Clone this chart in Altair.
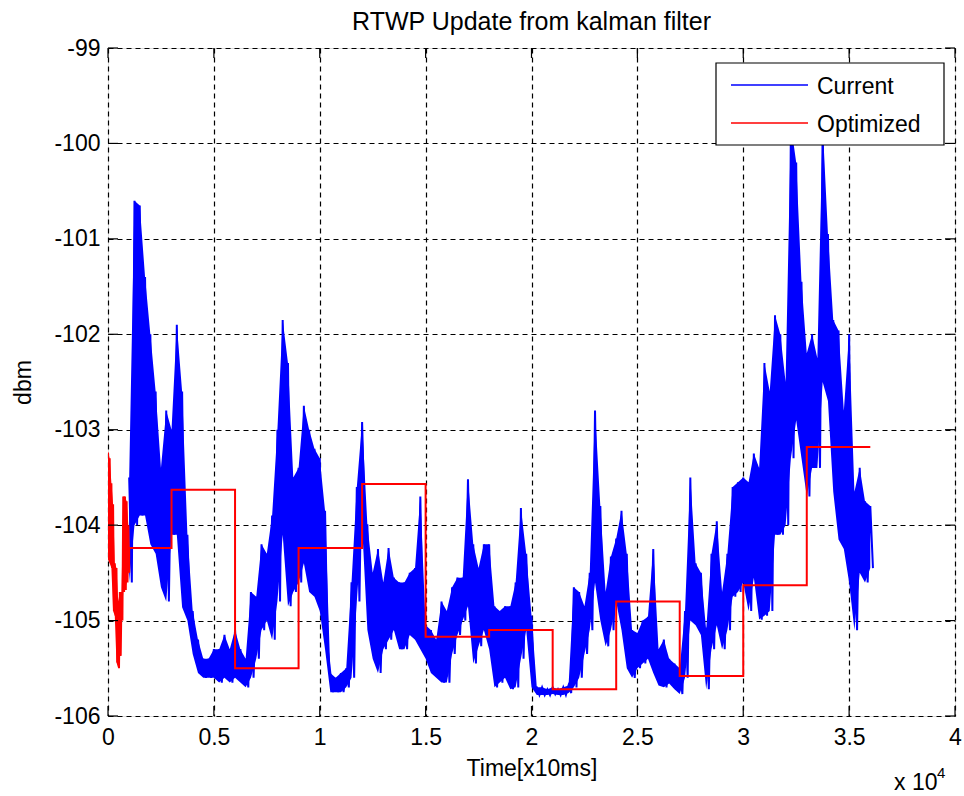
import altair as alt
import pandas as pd

# ---------------- data ----------------
X_TICKS = [0, 0.5, 1, 1.5, 2, 2.5, 3, 3.5, 4]
Y_TICKS = [-106, -105, -104, -103, -102, -101, -100, -99]
SERIES = ["Current", "Optimized"]
COLORS = ["#0000ff", "#ff0000"]

# "Current": envelope of the noisy trace sampled every 0.025 (x10^4 x10ms)
blue_t = [round(0.1 + 0.025 * i, 4) for i in range(141)]
blue_hi = [
    -103.5, -100.6, -100.65, -101.4, -102.0, -102.6, -103.4, -102.8, -103.0, -101.9,
    -102.6, -104.1, -104.9, -105.2, -105.4, -105.4, -105.3, -105.3, -105.15, -105.3,
    -105.1, -105.3, -105.4, -104.7, -104.75, -104.2, -104.3, -103.9, -103.0, -101.85,
    -102.3, -103.5, -103.4, -102.75, -103.0, -103.2, -103.3, -103.85, -105.55, -105.6,
    -105.55, -105.5, -104.6, -103.6, -102.92, -104.0, -104.5, -104.25, -104.6, -104.24,
    -104.55, -104.6, -104.6, -104.5, -104.45, -103.7, -105.05, -105.1, -105.2, -104.8,
    -104.9, -104.65, -104.55, -104.55, -103.52, -104.2, -104.45, -104.2, -104.2, -104.85,
    -104.9, -104.85, -104.85, -104.6, -103.82, -104.3, -104.95, -105.7, -105.7, -105.72,
    -105.7, -105.72, -105.7, -105.68, -104.65, -104.7, -104.85, -104.5, -102.8, -103.8,
    -104.7, -104.33, -104.14, -103.85, -104.3, -105.1, -105.13, -105.0, -104.96, -104.25,
    -105.3, -105.2, -105.4, -105.45, -105.5, -104.9, -103.5, -104.4, -104.5, -105.1,
    -104.3, -103.96, -104.7, -104.3, -103.6, -103.55, -103.5, -103.55, -103.25, -103.4,
    -102.3, -102.6, -101.8, -102.0, -102.5, -99.8, -100.2, -101.45, -102.2, -102.0,
    -102.25, -99.8, -100.95, -101.85, -101.96, -102.8, -102.0, -103.65, -103.4, -103.75,
    -103.8,
]
blue_lo = [
    -104.6, -104.0, -103.9, -103.9, -104.2, -104.3, -104.65, -104.8, -104.1, -104.1,
    -104.86, -105.0, -105.35, -105.55, -105.6, -105.6, -105.6, -105.65, -105.6, -105.65,
    -105.6, -105.65, -105.7, -105.6, -105.4, -105.1, -105.0, -105.2, -104.8, -104.1,
    -104.85, -104.7, -104.6, -104.4, -104.7, -104.75, -104.9, -105.3, -105.75, -105.75,
    -105.75, -105.7, -105.6, -104.8, -104.0, -105.1, -105.4, -105.55, -105.3, -105.2,
    -105.1, -105.3, -105.3, -105.15, -105.2, -105.3, -105.4, -105.55, -105.6, -105.65,
    -105.65, -105.35, -105.15, -105.0, -104.85, -105.45, -105.27, -105.1, -105.3, -105.7,
    -105.65, -105.6, -105.72, -105.7, -105.4, -105.1, -105.7, -105.78, -105.78, -105.78,
    -105.77, -105.78, -105.78, -105.76, -105.7, -105.6, -105.35, -105.1, -104.6, -105.0,
    -105.27, -105.1, -104.8, -105.1, -105.5, -105.6, -105.5, -105.45, -105.4, -105.55,
    -105.68, -105.7, -105.66, -105.72, -105.77, -105.6, -105.0, -105.05, -105.15, -105.72,
    -105.3, -105.05, -105.3, -105.1, -104.75, -104.7, -104.6, -104.9, -104.55, -104.99,
    -104.95, -104.9, -104.1, -104.1, -104.0, -103.3, -102.9, -103.3, -103.7, -103.4,
    -103.4, -102.5, -102.7, -103.65, -104.15, -104.25, -104.6, -105.1, -104.5, -104.6,
    -104.45,
]

# "Optimized": noisy start (envelope), then piecewise-constant updates
red_t = [0.000, 0.008, 0.016, 0.024, 0.032, 0.040, 0.048, 0.056, 0.064, 0.072,
         0.080, 0.088, 0.096]
red_hi = [-103.24, -103.3, -103.56, -103.78, -104.4, -104.45, -104.8, -104.7, -104.7,
          -103.7, -103.7, -103.75, -104.0]
red_lo = [-104.36, -104.4, -104.45, -104.9, -104.95, -105.44, -105.5, -105.37, -105.0,
          -104.7, -104.68, -104.6, -104.5]
step_edges = [0.1, 0.3, 0.6, 0.9, 1.2, 1.5, 1.8, 2.1, 2.4, 2.7, 3.0, 3.3, 3.6]
step_vals = [-104.24, -103.63, -105.5, -104.24, -103.57, -105.17, -105.1,
             -105.72, -104.8, -105.58, -104.63, -103.18]

# ---------------- tables ----------------
blue_rows, red_rows = [], []
i = 0
for t, h, l in zip(blue_t, blue_hi, blue_lo):
    blue_rows.append({"t": t, "v": h, "i": i}); i += 1
    blue_rows.append({"t": t + 0.0125, "v": l, "i": i}); i += 1
i = 0
for t, h, l in zip(red_t, red_hi, red_lo):
    red_rows.append({"t": t, "v": h, "i": i}); i += 1
    red_rows.append({"t": t + 0.004, "v": l, "i": i}); i += 1
for k, v in enumerate(step_vals):
    red_rows.append({"t": step_edges[k], "v": v, "i": i}); i += 1
    red_rows.append({"t": step_edges[k + 1], "v": v, "i": i}); i += 1
blue_line_df = pd.DataFrame(blue_rows)
red_line_df = pd.DataFrame(red_rows)
blue_band_df = pd.DataFrame({"t": blue_t, "hi": blue_hi, "lo": blue_lo})
red_band_df = pd.DataFrame({"t": red_t, "hi": red_hi, "lo": red_lo})

W, H = 847, 668
TL = 10
FONT = "Liberation Sans"
FS = 23


def x_enc(field="t"):
    return alt.X(
        f"{field}:Q",
        scale=alt.Scale(domain=[0, 4], nice=False, zero=False),
        axis=alt.Axis(values=X_TICKS, labelExpr="toString(datum.value)", title="Time[x10ms]",
                      ticks=False, domain=False, grid=True, gridColor="black", gridDash=[5, 4],
                      gridWidth=1.2, gridOpacity=1, labelFont=FONT, labelFontSize=FS,
                      labelColor="black", labelPadding=10, labelFlush=False,
                      titleFont=FONT, titleFontSize=FS, titleFontWeight="normal",
                      titleColor="black", titlePadding=8),
    )


def y_enc(field="v"):
    return alt.Y(
        f"{field}:Q",
        scale=alt.Scale(domain=[-106, -99], nice=False, zero=False),
        axis=alt.Axis(values=Y_TICKS, labelExpr="toString(datum.value)", title="dbm",
                      ticks=False, domain=False, grid=True, gridColor="black", gridDash=[5, 4],
                      gridWidth=1.2, gridOpacity=1, labelFont=FONT, labelFontSize=FS,
                      labelColor="black", labelPadding=8, labelFlush=False,
                      titleFont=FONT, titleFontSize=FS, titleFontWeight="normal",
                      titleColor="black", titlePadding=18),
    )


blue_band = alt.Chart(blue_band_df).mark_area(color=COLORS[0], clip=True).encode(
    x=x_enc(), y=y_enc("hi"), y2="lo:Q")
blue_line = alt.Chart(blue_line_df).mark_line(color=COLORS[0], strokeWidth=2, clip=True).encode(
    x=x_enc(), y=y_enc(), order=alt.Order("i:Q"))
red_band = alt.Chart(red_band_df).mark_area(color=COLORS[1], clip=True).encode(
    x=x_enc(), y=y_enc("hi"), y2="lo:Q")
red_line = alt.Chart(red_line_df).mark_line(color=COLORS[1], strokeWidth=2, clip=True).encode(
    x=x_enc(), y=y_enc(), order=alt.Order("i:Q"))

xt = pd.DataFrame({"t": X_TICKS})
yt = pd.DataFrame({"v": Y_TICKS})
tick_bottom = alt.Chart(xt).mark_rule(color="black", strokeWidth=1.2).encode(
    x="t:Q", y=alt.value(H), y2=alt.value(H - TL))
tick_top = alt.Chart(xt).mark_rule(color="black", strokeWidth=1.2).encode(
    x="t:Q", y=alt.value(0), y2=alt.value(TL))
tick_left = alt.Chart(yt).mark_rule(color="black", strokeWidth=1.2).encode(
    y="v:Q", x=alt.value(0), x2=alt.value(TL))
tick_right = alt.Chart(yt).mark_rule(color="black", strokeWidth=1.2).encode(
    y="v:Q", x=alt.value(W), x2=alt.value(W - TL))

# legend box (MATLAB style, drawn over the data)
one = pd.DataFrame({"a": [0]})
leg_box = alt.Chart(one).mark_rect(fill="white", stroke="black", strokeWidth=1.2).encode(
    x=alt.value(608), x2=alt.value(836), y=alt.value(15), y2=alt.value(97))
leg_layers = []
for k, (name, col) in enumerate(zip(SERIES, COLORS)):
    yy = 37 + 38 * k
    leg_layers.append(alt.Chart(one).mark_rule(color=col, strokeWidth=1.5).encode(
        x=alt.value(623), x2=alt.value(700), y=alt.value(yy)))
    leg_layers.append(alt.Chart(one).mark_text(text=name, align="left", baseline="middle",
                                               font=FONT, fontSize=FS, color="black").encode(
        x=alt.value(709), y=alt.value(yy + 2)))

exp_base = alt.Chart(one).mark_text(text="x 10", align="left", baseline="alphabetic",
                                    font=FONT, fontSize=FS, color="black").encode(
    x=alt.value(786), y=alt.value(742))
exp_pow = alt.Chart(one).mark_text(text="4", align="left", baseline="alphabetic",
                                   font=FONT, fontSize=15, color="black").encode(
    x=alt.value(829), y=alt.value(730))

chart = alt.layer(
    blue_band, blue_line, red_band, red_line,
    tick_bottom, tick_top, tick_left, tick_right,
    leg_box, *leg_layers, exp_base, exp_pow,
).properties(
    width=W, height=H,
    title=alt.TitleParams("RTWP Update from kalman filter", font=FONT, fontSize=25,
                          fontWeight="normal", color="black", offset=2, anchor="middle"),
    padding={"left": 108, "top": 48, "right": 9, "bottom": 80},
    autosize=alt.AutoSizeParams(type="none"),
).configure_view(stroke="black", strokeWidth=1.5).configure(background="white")

chart.save("out.html", embed_options={"renderer": "svg", "actions": False})
